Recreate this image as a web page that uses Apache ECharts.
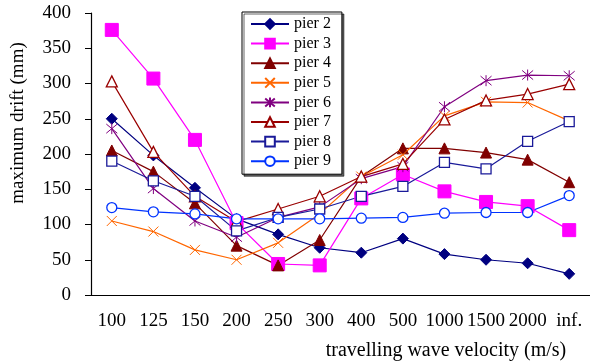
<!DOCTYPE html>
<html>
<head>
<meta charset="utf-8">
<script src="https://cdn.jsdelivr.net/npm/echarts@6/dist/echarts.min.js"></script>
<style>
  html, body { margin: 0; padding: 0; background: #fff; }
  #chart { width: 590px; height: 363px; }
</style>
</head>
<body>
<div id="chart"></div>
<script>
const velocities = ['100', '125', '150', '200', '250', '300', '400', '500', '1000', '1500', '2000', 'inf.'];

const pier2 = [250, 198, 152, 108, 86, 67, 60, 80, 58, 50, 45, 30];
const pier3 = [376, 307, 220, 102, 44, 42, 137, 171, 147, 132, 126, 92];
const pier4 = [205, 175, 130, 70, 42, 78, 168, 208, 208, 202, 192, 160];
const pier5 = [105, 90, 64, 50, 74, 115, 168, 199, 254, 274, 273, 247];
const pier6 = [236, 151, 105, 82, 110, 125, 165, 182, 267, 304, 312, 311];
const pier7 = [303, 203, 140, 104, 122, 140, 168, 186, 249, 276, 285, 299];
const pier8 = [190, 162, 140, 91, 110, 122, 140, 154, 188, 179, 218, 246];
const pier9 = [124, 118, 115, 108, 108, 108, 109, 110, 116, 117, 117, 141];

const FONT = '"Liberation Serif", "DejaVu Serif", serif';

const makeSeries = (name, data, color, symbol, size, hollow) => ({
    name: name,
    type: 'line',
    data: data,
    symbol: symbol,
    symbolSize: size,
    showSymbol: true,
    animation: false,
    lineStyle: { color: color, width: 1.2 },
    itemStyle: hollow
        ? { color: '#fff', borderColor: color, borderWidth: 1.3 }
        : { color: color, borderColor: color, borderWidth: 1 },
    emphasis: { disabled: true }
});

const crossPath = 'path://M0,0L10,10M10,0L0,10';
const starPath = 'path://M0,0L10,10M10,0L0,10M5,-1L5,11';

const myChart = echarts.init(document.getElementById('chart'));
myChart.setOption({
    backgroundColor: '#fff',
    animation: false,
    grid: { left: 91, right: 0, top: 13, bottom: 68 },
    legend: {
        orient: 'vertical',
        left: 242,
        top: 12,
        itemWidth: 38,
        itemHeight: 12,
        itemGap: 3.6,
        padding: [4, 11, 5, 8],
        borderColor: '#000',
        borderWidth: 1,
        backgroundColor: '#fff',
        shadowColor: 'rgba(0,0,0,0.6)',
        shadowOffsetX: 2,
        shadowOffsetY: 2,
        textStyle: { fontFamily: FONT, fontSize: 16, color: '#000' }
    },
    xAxis: {
        type: 'category',
        data: velocities,
        axisLine: { lineStyle: { color: '#000', width: 1.2 } },
        axisTick: { length: 6, lineStyle: { color: '#000' } },
        axisLabel: { fontFamily: FONT, fontSize: 19, color: '#000', margin: 17, interval: 0 },
        splitLine: { show: false }
    },
    yAxis: {
        type: 'value',
        min: 0,
        max: 400,
        interval: 50,
        axisLine: { show: true, lineStyle: { color: '#000', width: 1.2 } },
        axisTick: { show: true, length: 6, lineStyle: { color: '#000' } },
        axisLabel: { fontFamily: FONT, fontSize: 19, color: '#000', margin: 20 },
        splitLine: { show: false }
    },
    graphic: [
        {
            type: 'text',
            x: 18,
            y: 123,
            rotation: Math.PI / 2,
            style: {
                text: 'maximum drift (mm)',
                font: '19px ' + FONT,
                fill: '#000',
                align: 'center',
                verticalAlign: 'middle'
            }
        },
        {
            type: 'text',
            x: 446,
            y: 351,
            style: {
                text: 'travelling wave velocity (m/s)',
                font: '20px ' + FONT,
                fill: '#000',
                align: 'center',
                verticalAlign: 'middle'
            }
        }
    ],
    series: [
        makeSeries('pier 2', pier2, '#000080', 'diamond', 11, false),
        makeSeries('pier 3', pier3, '#FF00FF', 'rect', 13, false),
        makeSeries('pier 4', pier4, '#800000', 'triangle', 11, false),
        makeSeries('pier 5', pier5, '#FF6600', crossPath, 10, false),
        makeSeries('pier 6', pier6, '#800080', starPath, 11, false),
        makeSeries('pier 7', pier7, '#990000', 'triangle', 11, true),
        makeSeries('pier 8', pier8, '#1A1A99', 'rect', 10, true),
        makeSeries('pier 9', pier9, '#0033FF', 'circle', 10, true)
    ]
});
</script>
</body>
</html>
